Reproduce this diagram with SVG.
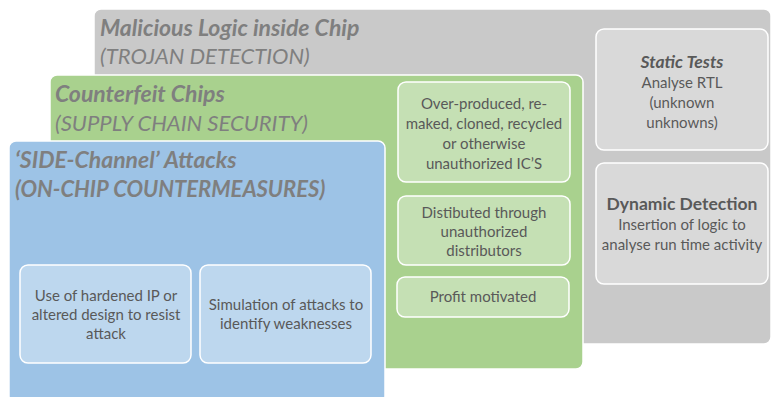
<svg xmlns="http://www.w3.org/2000/svg" width="771" height="397" viewBox="0 0 771 397">
  <style>
    .panel { stroke: #ffffff; stroke-width: 1.5; }
    .gray { fill: #c9c9c9; }
    .green { fill: #a9d18e; }
    .blue { fill: #9dc3e6; }
    .box { stroke: #ffffff; stroke-width: 1.5; }
    .gbox { fill: #d9d9d9; }
    .grbox { fill: #c5e0b4; }
    .bbox { fill: #bdd7ee; }
    .title { font-family: Lato, "Open Sans", sans-serif; font-size: 22px; fill: #7f7f7f; font-style: italic; }
    .b { font-weight: bold; font-size: 23px; }
    .t { font-family: Lato, "Open Sans", sans-serif; font-size: 15px; fill: #595959; text-anchor: middle; }
    .h { font-size: 17.5px; font-weight: bold; }
  </style>

  <!-- Trojan detection panel -->
  <g id="trojan">
    <rect class="panel gray" x="94" y="9" width="677" height="335" rx="7"/>
    <text class="title b" x="100" y="36">Malicious Logic inside Chip</text>
    <text class="title" x="100" y="64">(TROJAN DETECTION)</text>
  </g>
  <g id="static-tests">
    <rect class="box gbox" x="596" y="29" width="172" height="121" rx="8"/>
    <text class="t h" x="682" y="68" font-style="italic">Static Tests</text>
    <text class="t" x="682" y="88">Analyse RTL</text>
    <text class="t" x="682" y="108">(unknown</text>
    <text class="t" x="682" y="128">unknowns)</text>
  </g>
  <g id="dynamic-detection">
    <rect class="box gbox" x="596" y="163" width="172" height="121" rx="8"/>
    <text class="t h" x="682" y="210">Dynamic Detection</text>
    <text class="t" x="682" y="230">Insertion of logic to</text>
    <text class="t" x="682" y="250">analyse run time activity</text>
  </g>

  <!-- Supply chain panel -->
  <g id="counterfeit">
    <rect class="panel green" x="50" y="75" width="533" height="294" rx="7"/>
    <text class="title b" x="55" y="102">Counterfeit Chips</text>
    <text class="title" x="55" y="131">(SUPPLY CHAIN SECURITY)</text>
  </g>
  <g id="overproduced">
    <rect class="box grbox" x="398" y="82" width="172" height="100" rx="8"/>
    <text class="t" x="484" y="109">Over-produced, re-</text>
    <text class="t" x="484" y="129">maked, cloned, recycled</text>
    <text class="t" x="484" y="149">or otherwise</text>
    <text class="t" x="484" y="169">unauthorized IC’S</text>
  </g>
  <g id="distributed">
    <rect class="box grbox" x="398" y="196" width="172" height="69" rx="8"/>
    <text class="t" x="484" y="218">Distibuted through</text>
    <text class="t" x="484" y="237">unauthorized</text>
    <text class="t" x="484" y="256">distributors</text>
  </g>
  <g id="profit">
    <rect class="box grbox" x="397" y="277" width="172" height="40" rx="8"/>
    <text class="t" x="483" y="302">Profit motivated</text>
  </g>

  <!-- Side-channel panel -->
  <g id="side-channel">
    <rect class="panel blue" x="9" y="141" width="376" height="262" rx="7"/>
    <text class="title b" x="15" y="168">‘SIDE-Channel’ Attacks</text>
    <text class="title b" x="15" y="197" style="font-size:22px">(ON-CHIP COUNTERMEASURES)</text>
  </g>
  <g id="hardened-ip">
    <rect class="box bbox" x="20" y="265" width="171" height="98" rx="8"/>
    <text class="t" x="106" y="301">Use of hardened IP or</text>
    <text class="t" x="106" y="320">altered design to resist</text>
    <text class="t" x="106" y="339">attack</text>
  </g>
  <g id="simulation">
    <rect class="box bbox" x="200" y="265" width="171" height="98" rx="8"/>
    <text class="t" x="286" y="310">Simulation of attacks to</text>
    <text class="t" x="286" y="329">identify weaknesses</text>
  </g>

  <g id="connectors"/>
</svg>
